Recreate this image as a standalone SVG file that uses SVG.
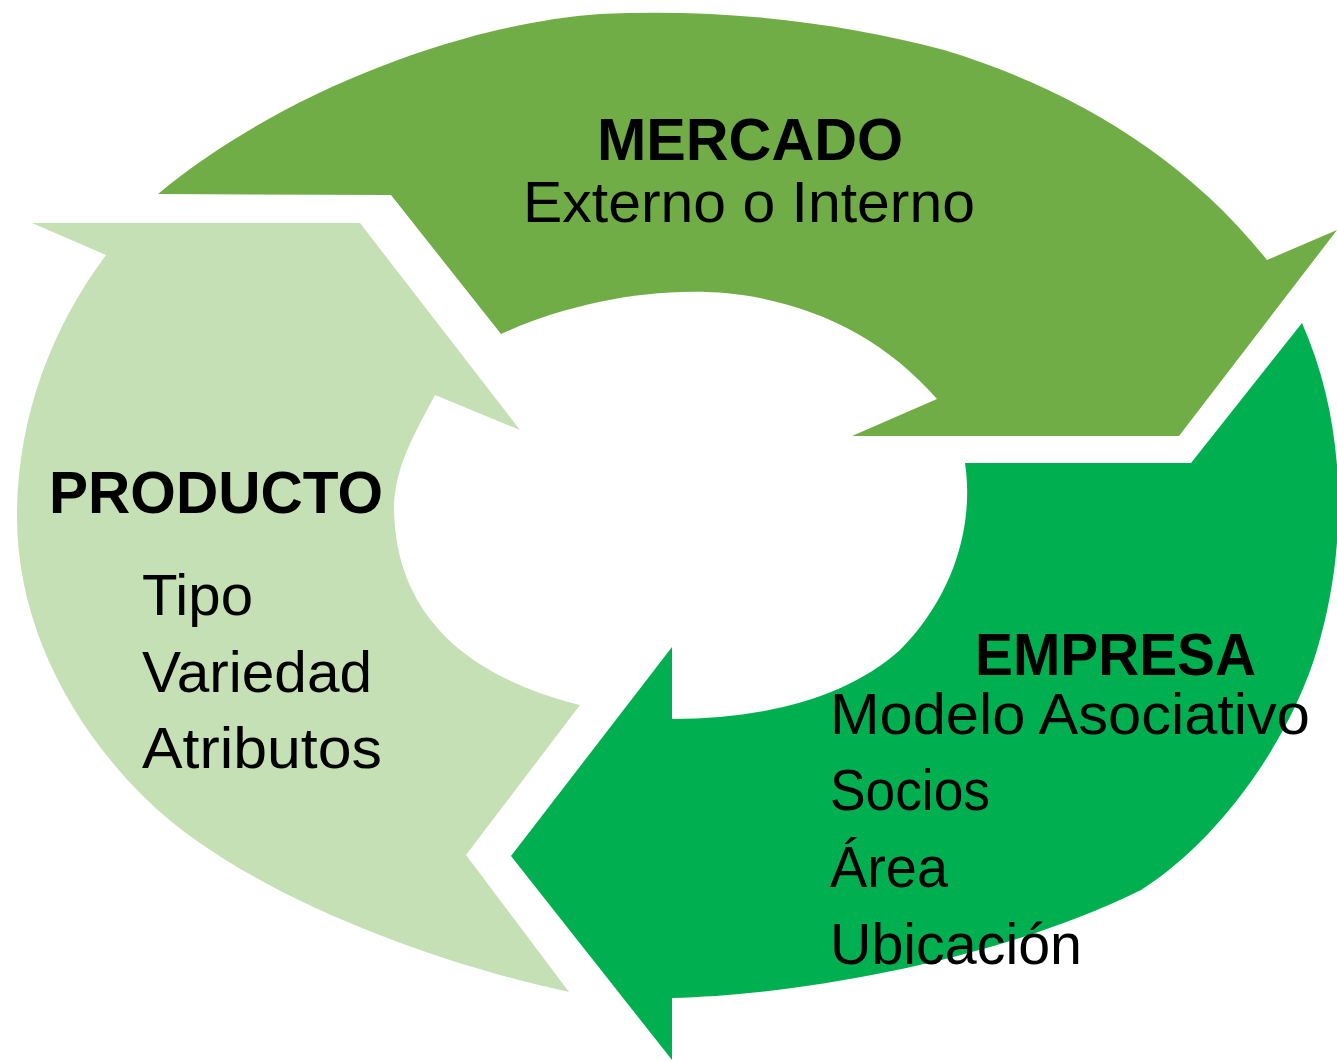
<svg xmlns="http://www.w3.org/2000/svg" width="1337" height="1061" viewBox="0 0 1337 1061">
<style>
.t{font-family:"Liberation Sans",Arial,sans-serif;fill:#000;font-size:57px}
.b{font-weight:bold;font-size:60px}
</style>
<rect width="1337" height="1061" fill="#fff"/>
<g id="mercado">
<path fill="#70AD47" d="M158,194 L391,195 L501,334 C580,298 680,282 760,298 C830,312 890,345 937,399 L852,436 L1179,436 L1337,230 L1267,260 C1180,150 1060,85 944,50 C840,22 720,8 600,14 C450,25 270,100 158,194 Z"/>
<text class="t b" x="597" y="160" textLength="306" lengthAdjust="spacingAndGlyphs">MERCADO</text>
<text class="t" x="523" y="222" textLength="452" lengthAdjust="spacingAndGlyphs">Externo o Interno</text>
</g>
<g id="producto">
<path fill="#C5E0B4" d="M32,223 L360,223 L520,430 L435,395 C412,438 394,470 394,510 C396,610 460,675 580,705 L466,855 L569,992 C430,962 243,893 147,800 C67,722 17,620 17,517 C17,420 50,330 106,255 Z"/>
<text class="t b" x="49" y="513" textLength="334" lengthAdjust="spacingAndGlyphs">PRODUCTO</text>
<text class="t" x="142" y="615" textLength="111" lengthAdjust="spacingAndGlyphs">Tipo</text>
<text class="t" x="142" y="692" textLength="230" lengthAdjust="spacingAndGlyphs">Variedad</text>
<text class="t" x="142" y="768" textLength="240" lengthAdjust="spacingAndGlyphs">Atributos</text>
</g>
<g id="empresa">
<path fill="#00B050" d="M1302,323 L1191,463 L965,463 C975,530 950,600 900,650 C850,695 770,719 672,719 L672,647 L511,856 L672,1060 L672,998 C800,995 1000,960 1141,890 C1220,840 1290,740 1317,650 C1350,540 1345,420 1302,323 Z"/>
<text class="t b" x="975" y="675" textLength="281" lengthAdjust="spacingAndGlyphs">EMPRESA</text>
<text class="t" x="830" y="734" textLength="480" lengthAdjust="spacingAndGlyphs">Modelo Asociativo</text>
<text class="t" x="830" y="810" textLength="160" lengthAdjust="spacingAndGlyphs">Socios</text>
<text class="t" x="830" y="887" textLength="118" lengthAdjust="spacingAndGlyphs">Área</text>
<text class="t" x="830" y="964" textLength="252" lengthAdjust="spacingAndGlyphs">Ubicación</text>
</g>
<g id="connectors"></g>
</svg>
